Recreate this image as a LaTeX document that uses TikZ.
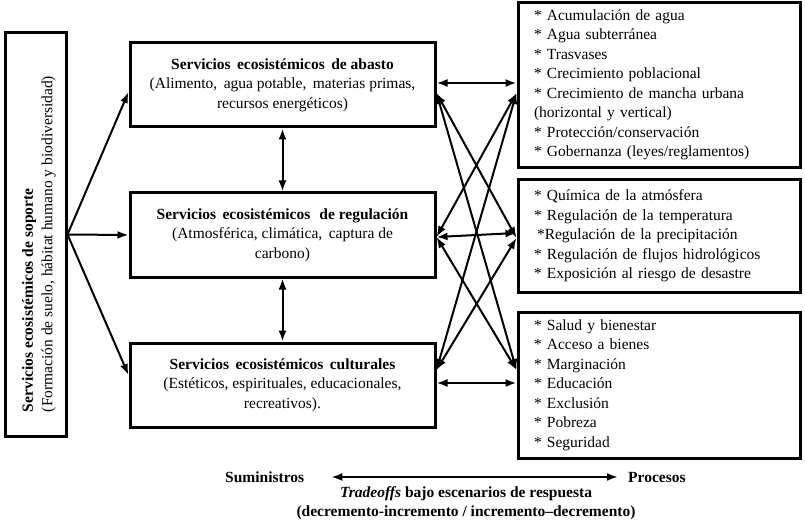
\documentclass[tikz,border=0pt]{standalone}
\usepackage{fontspec}
\setmainfont{Liberation Serif}
\usetikzlibrary{arrows.meta,calc}
\begin{document}
\begin{tikzpicture}[x=1pt,y=-1pt,
  font=\fontsize{15.5}{19.5}\selectfont,
  box/.style={draw, line width=3pt, inner sep=0pt, align=center},
  rbox/.style={draw, line width=3pt, inner sep=0pt, minimum width=282pt, text width=250pt, align=left},
  arr/.style={line width=2pt, {Latex[length=11pt,width=8pt]}-{Latex[length=11pt,width=8pt]}},
  onearr/.style={line width=2pt, -{Latex[length=11pt,width=8pt]}}]
\useasboundingbox (0,0) rectangle (805,521);

% left support box
\node[box, minimum width=61pt, minimum height=403pt] (sop) at (35.5,234.5) {};
\node[rotate=90, align=left, inner sep=0pt] (soptxt) at (39,244)
  {\textbf{Servicios ecosistémicos de soporte}\\(Formación de suelo, hábitat humano y biodiversidad)};

% middle boxes
\node[box, minimum width=305pt, minimum height=84pt] (abasto) at (282.5,85)
  {\textbf{Servicios\, ecosistémicos\, de abasto}\\(Alimento,\, agua potable,\, materias primas,\\recursos energéticos)};
\node[box, minimum width=305pt, minimum height=84pt] (regul) at (282.5,235)
  {\textbf{Servicios\, ecosistémicos\,\, de regulación}\\(Atmosférica, climática,\, captura de\\carbono)};
\node[box, minimum width=305pt, minimum height=84pt] (cult) at (282.5,385)
  {\textbf{Servicios\, ecosistémicos\, culturales}\\(Estéticos, espirituales, educacionales,\\recreativos).};

% right boxes
\node[rbox, minimum height=165pt] (r1) at (659,85)
  {* Acumulación de agua\\{}* Agua subterránea\\{}* Trasvases\\{}* Crecimiento poblacional\\{}* Crecimiento de mancha urbana\\(horizontal y vertical)\\{}* Protección/conservación\\{}* Gobernanza (leyes/reglamentos)};
\node[rbox, minimum height=112pt] (r2) at (659,236)
  {* Química de la atmósfera\\{}* Regulación de la temperatura\\\hspace*{3pt}*Regulación de la precipitación\\{}* Regulación de flujos hidrológicos\\{}* Exposición al riesgo de desastre};
\node[rbox, minimum height=146pt] (r3) at (659,385)
  {* Salud y bienestar\\{}* Acceso a bienes\\{}* Marginación\\{}* Educación\\{}* Exclusión\\{}* Pobreza\\{}* Seguridad};

% arrows from support box
\draw[onearr] (sop.east) -- ([yshift=-7pt]abasto.west);
\draw[onearr] (sop.east) -- (regul.west);
\draw[onearr] (sop.east) -- ([yshift=10pt]cult.west);

% vertical arrows
\draw[arr] (abasto.south) -- (regul.north);
\draw[arr] (regul.south) -- (cult.north);

% cross arrows
\draw[arr] ([yshift=2pt]abasto.east) -- ([yshift=2pt]r1.west);
\draw[arr] ([yshift=-8pt]abasto.east) -- ([yshift=-2pt]r2.west);
\draw[arr] ([yshift=-8pt]abasto.east) -- ([yshift=15pt]r3.west);
\draw[arr] ([yshift=-2pt]regul.east) -- ([yshift=-8pt]r1.west);
\draw[arr] ([yshift=-2pt]regul.east) -- ([yshift=3pt]r2.west);
\draw[arr] ([yshift=-2pt]regul.east) -- ([yshift=15pt]r3.west);
\draw[arr] ([yshift=15pt]cult.east) -- ([yshift=-8pt]r1.west);
\draw[arr] ([yshift=15pt]cult.east) -- ([yshift=-2pt]r2.west);
\draw[arr] ([yshift=2pt]cult.east) -- ([yshift=2pt]r3.west);

% bottom
\node[font=\fontsize{15.5}{19.5}\selectfont\bfseries, anchor=west, inner sep=0pt] (sum) at (225,477) {Suministros};
\node[font=\fontsize{15.5}{19.5}\selectfont\bfseries, anchor=west, inner sep=0pt] (proc) at (628,477) {Procesos};
\draw[arr, shorten <=27pt, shorten >=10pt] (sum.east) -- (proc.west);
\node[align=center, inner sep=0pt, font=\fontsize{15.5}{19}\selectfont\bfseries] (trade) at (466,503)
  {\textit{Tradeoffs} bajo escenarios de respuesta\\(decremento-incremento / incremento--decremento)};
\end{tikzpicture}
\end{document}
